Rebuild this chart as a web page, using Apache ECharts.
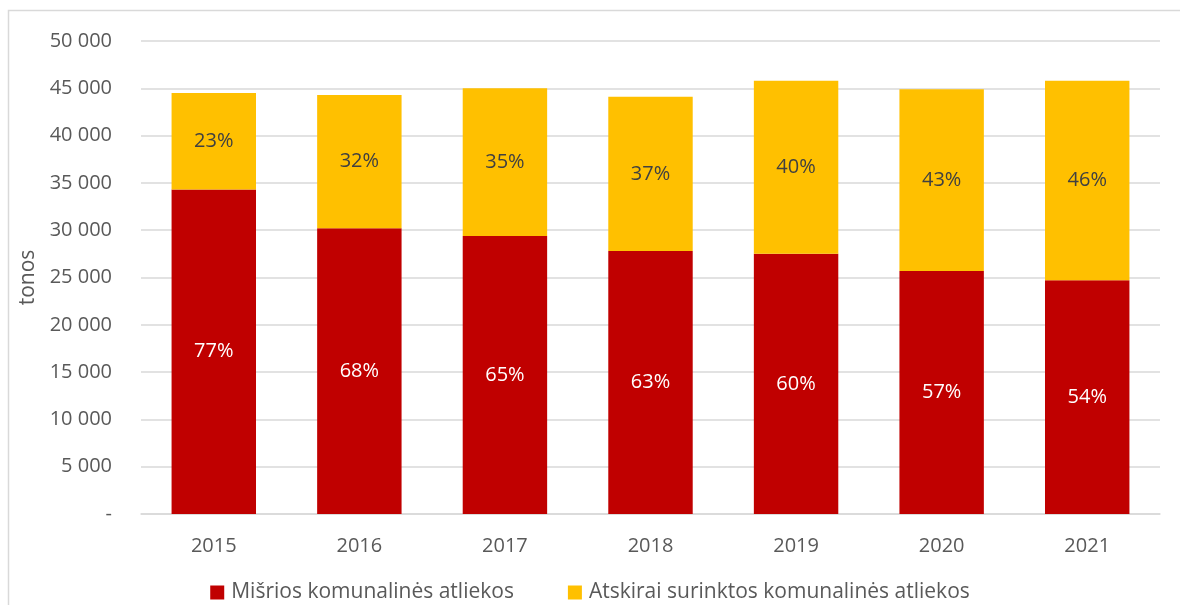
<!DOCTYPE html>
<html><head><meta charset="utf-8">
<script src="https://cdn.jsdelivr.net/npm/echarts@6/dist/echarts.min.js"></script>
<style>html,body{margin:0;padding:0;background:#fff}#c{width:1180px;height:605px}</style>
</head><body><div id="c"></div>
<script>
var years = ['2015','2016','2017','2018','2019','2020','2021'];
var mixedWaste = [34300, 30200, 29400, 27800, 27500, 25700, 24700];
var separateWaste = [10200, 14100, 15600, 16300, 18300, 19200, 21100];
var mixedPct = ['77%','68%','65%','63%','60%','57%','54%'];
var separatePct = ['23%','32%','35%','37%','40%','43%','46%'];
var seriesNames = ['Mišrios komunalinės atliekos','Atskirai surinktos komunalinės atliekos'];
var yAxisName = 'tonos';

var font = 'Open Sans';
var fs = 20;
var chart = echarts.init(document.getElementById('c'));
chart.setOption({
  animation:false,
  textStyle:{fontFamily:font},
  graphic:[{type:'rect',shape:{x:8.5,y:10.5,width:1200,height:700},style:{fill:'none',stroke:'#d9d9d9',lineWidth:1.5},silent:true}],
  grid:{left:141,right:20,top:41,bottom:91},
  legend:{top:577,left:'center',itemWidth:14,itemHeight:14,itemGap:54,icon:'rect',
    textStyle:{fontSize:21,color:'#595959',fontFamily:font,padding:[0,0,0,2]},data:seriesNames},
  xAxis:{type:'category',data:years,
    axisLine:{lineStyle:{color:'#d9d9d9',width:1.5}},axisTick:{show:false},
    axisLabel:{fontSize:fs,color:'#595959',margin:22}},
  yAxis:{type:'value',min:0,max:50000,interval:5000,
    name:yAxisName,nameLocation:'middle',nameGap:96,nameTextStyle:{fontSize:21,color:'#595959'},
    axisLine:{show:false},axisTick:{show:false},
    splitLine:{lineStyle:{color:'#d9d9d9',width:1.5}},
    axisLabel:{fontSize:fs,color:'#595959',margin:29,
      formatter:function(v){return v===0?'-':String(v).replace(/\B(?=(\d{3})+(?!\d))/g,' ');}}},
  series:[
    {name:seriesNames[0],type:'bar',stack:'t',data:mixedWaste,barWidth:'58%',
     itemStyle:{color:'#c00000'},
     label:{show:true,position:'inside',color:'#ffffff',fontSize:fs,
       formatter:function(p){return mixedPct[p.dataIndex];}}},
    {name:seriesNames[1],type:'bar',stack:'t',data:separateWaste,barWidth:'58%',
     itemStyle:{color:'#ffc000'},
     label:{show:true,position:'inside',color:'#404040',fontSize:fs,
       formatter:function(p){return separatePct[p.dataIndex];}}}
  ]
});
</script></body></html>
